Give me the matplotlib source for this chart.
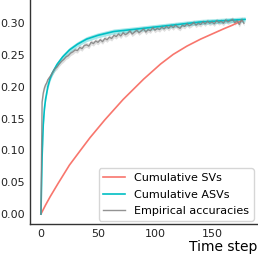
import matplotlib
matplotlib.use("Agg")
import matplotlib.pyplot as plt
import numpy as np

# cumulative SVs (red)
sv_t = [0, 4, 8, 15, 25, 35, 43, 56, 72, 90, 105, 116, 128, 140, 150, 160, 168, 176]
sv_val = [0.000, 0.014, 0.027, 0.048, 0.077, 0.101, 0.120, 0.148, 0.180, 0.212,
          0.236, 0.251, 0.264, 0.275, 0.283, 0.291, 0.297, 0.304]

# cumulative ASVs (cyan)
asv_t = [0, 1, 2, 3, 4, 6, 8, 10, 14, 19, 25, 32, 40, 50, 64, 80, 100, 120, 140, 160, 179]
asv_val = [0.000, 0.090, 0.140, 0.165, 0.180, 0.200, 0.213, 0.222, 0.235, 0.247, 0.258,
           0.267, 0.275, 0.281, 0.287, 0.290, 0.294, 0.298, 0.302, 0.304, 0.306]
asv_band = 0.004

# empirical accuracies (gray)
emp_t = list(range(0, 7)) + list(range(8, 180, 2))
emp_val = [0.000, 0.176, 0.190, 0.198, 0.203, 0.206, 0.211,
           0.216, 0.222, 0.228, 0.231, 0.236, 0.240, 0.243, 0.247, 0.249, 0.253,
           0.255, 0.258, 0.257, 0.262, 0.260, 0.265, 0.266, 0.264, 0.270, 0.268,
           0.272, 0.270, 0.274, 0.271, 0.276, 0.274, 0.278, 0.276, 0.281, 0.279,
           0.283, 0.280, 0.285, 0.282, 0.284, 0.288, 0.283, 0.286, 0.289, 0.285,
           0.288, 0.291, 0.286, 0.290, 0.288, 0.293, 0.289, 0.292, 0.290, 0.294,
           0.291, 0.295, 0.292, 0.296, 0.293, 0.297, 0.294, 0.292, 0.297, 0.295,
           0.299, 0.296, 0.298, 0.301, 0.297, 0.300, 0.298, 0.302, 0.299, 0.303,
           0.300, 0.302, 0.299, 0.304, 0.301, 0.303, 0.300, 0.305, 0.302, 0.304,
           0.306, 0.301, 0.304, 0.298, 0.306, 0.300]
emp_band = 0.004

fig = plt.figure(figsize=(2.58, 2.57), dpi=100)
ax = fig.add_axes([0.1163, 0.1284, 0.88, 0.8716])

asv_val = np.array(asv_val)
emp_val = np.array(emp_val)

ax.fill_between(emp_t, emp_val - emp_band, emp_val + emp_band, color='gray', alpha=0.25, lw=0)
ax.fill_between(asv_t, asv_val - asv_band, asv_val + asv_band, color='#00bfc4', alpha=0.35, lw=0)
ax.plot(sv_t, sv_val, color='#f8766d', lw=1.2, label='Cumulative SVs')
ax.plot(asv_t, asv_val, color='#00bfc4', lw=1.2, label='Cumulative ASVs')
ax.plot(emp_t, emp_val, color='gray', lw=1.0, alpha=0.85, label='Empirical accuracies')

ax.set_xlim(-9.6, 189.5)
ax.set_ylim(-0.0157, 0.3365)
ax.set_xticks([0, 50, 100, 150])
ax.set_yticks([0.00, 0.05, 0.10, 0.15, 0.20, 0.25, 0.30])
ax.set_yticklabels(['0.00', '0.05', '0.10', '0.15', '0.20', '0.25', '0.30'])
ax.tick_params(length=0, labelsize=8, pad=3.5, colors='#222222')
for s in ['top', 'right']:
    ax.spines[s].set_visible(False)
for s in ['left', 'bottom']:
    ax.spines[s].set_color('#333333')
    ax.spines[s].set_linewidth(1.0)

ax.set_xlabel('Time step', fontsize=10, loc='right', labelpad=1)
ax.legend(loc='lower right', fontsize=8, borderaxespad=0.3, labelspacing=0.6)

fig.savefig('out.png', dpi=100)
